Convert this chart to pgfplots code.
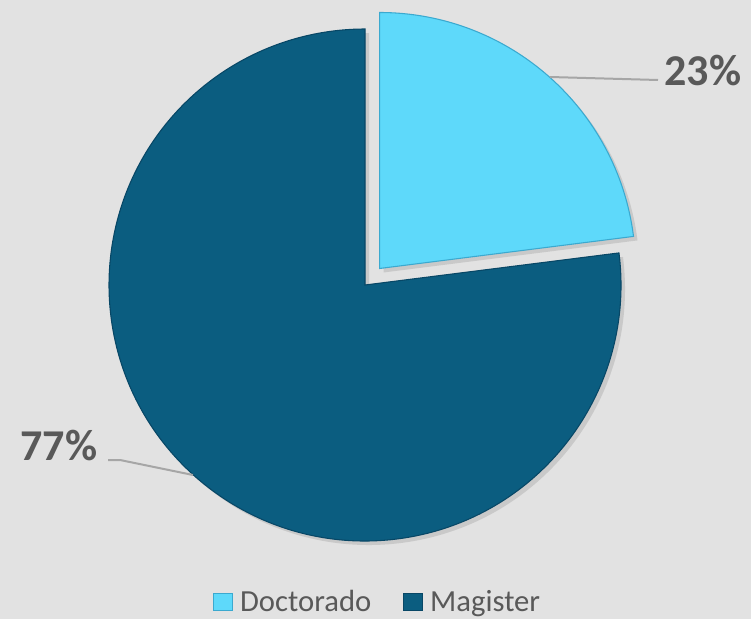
\documentclass[border=0pt]{standalone}
\usepackage{pgfplots}
\pgfplotsset{compat=1.18}
\usepackage{pgfplotstable}
\usepackage{fontspec}
\setmainfont{Carlito}
\usetikzlibrary{shadows}
\definecolor{bg}{HTML}{E2E2E2}
\definecolor{doc}{HTML}{5ED9FA}
\definecolor{docedge}{HTML}{3BA9CF}
\definecolor{mag}{HTML}{0B5D80}
\definecolor{magedge}{HTML}{084766}
\definecolor{labgray}{HTML}{595959}
\definecolor{leader}{HTML}{A6A6A6}
\pgfplotstableread{
label value
Doctorado 23
Magister 77
}\piedata
\pgfplotstablegetelem{0}{value}\of\piedata
\let\vA\pgfplotsretval
\pgfmathsetmacro\angA{90-3.6*\vA}
\pgfmathsetmacro\bis{(90+\angA)/2}
\begin{document}
\begin{tikzpicture}
\begin{axis}[
  width=563.25pt, height=464.25pt, scale only axis,
  xmin=0, xmax=751, ymin=0, ymax=619,
  hide axis, clip=false,
  legend columns=2,
  legend style={at={(axis cs:378,17)}, anchor=center, draw=none, fill=none,
    font=\fontsize{23}{26}\selectfont, text=labgray,
    /tikz/every even column/.append style={column sep=22pt},
    cells={anchor=west}},
  legend image code/.code={\draw[#1] (0pt,-6.5pt) rectangle (14pt,6.5pt); \path[draw=none,fill=none] (0pt,0pt) -- (18pt,0pt);},
]
\fill[bg] (axis cs:0,0) rectangle (axis cs:751,619);
% Magister slice
\fill[mag, draw=magedge, line width=0.8pt,
  drop shadow={shadow xshift=3pt, shadow yshift=-3pt, opacity=0.25}]
  (axis cs:365,334) -- ++(\angA:192pt) arc[start angle=\angA, end angle=-270, radius=192pt] -- cycle;
% Doctorado slice (exploded)
\fill[doc, draw=docedge, line width=0.8pt,
  drop shadow={shadow xshift=3pt, shadow yshift=-3pt, opacity=0.25}]
  (axis cs:365,334) ++(\bis:16.5pt) -- ++(90:192pt) arc[start angle=90, end angle=\angA, radius=192pt] -- cycle;
% leader lines and labels
\draw[leader, line width=1.5pt] (axis cs:550,542) -- (axis cs:658,539);
\draw[leader, line width=1.5pt] (axis cs:108,159) -- (axis cs:120,159) -- (axis cs:193,144);
\node[font=\fontsize{33}{37}\selectfont\bfseries, text=labgray] at (axis cs:703,548) {23\%};
\node[font=\fontsize{33}{37}\selectfont\bfseries, text=labgray] at (axis cs:59,173) {77\%};
\addlegendimage{fill=doc, draw=docedge}
\addlegendentry{Doctorado}
\addlegendimage{fill=mag, draw=magedge}
\addlegendentry{Magister}
\end{axis}
\end{tikzpicture}
\end{document}
